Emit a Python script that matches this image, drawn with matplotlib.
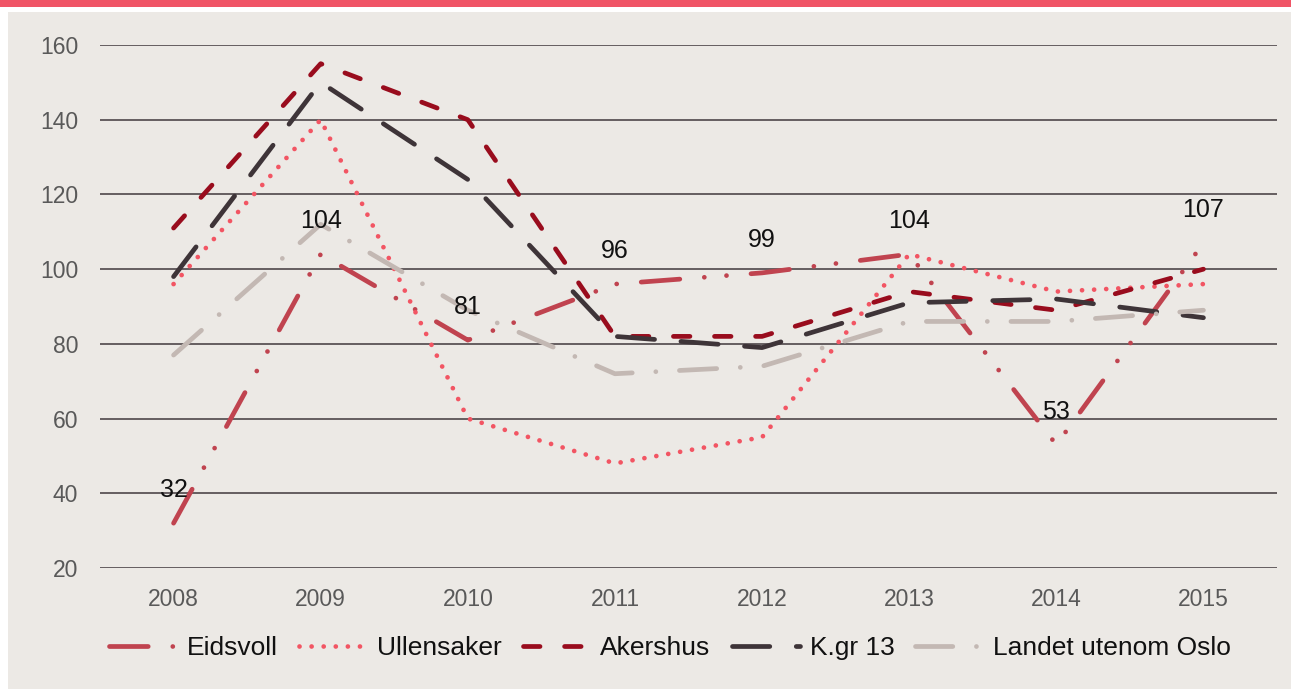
import matplotlib
matplotlib.use("Agg")
import matplotlib.pyplot as plt
from matplotlib.patches import Rectangle

plt.rcParams['font.family'] = ['Liberation Sans', 'DejaVu Sans']

# data
years = ['2008', '2009', '2010', '2011', '2012', '2013', '2014', '2015']
eidsvoll = [32, 104, 81, 96, 99, 104, 53, 107]
ullensaker = [96, 140, 60, 48, 55, 104, 94, 96]
akershus = [111, 155, 140, 82, 82, 94, 89, 100]
kgr13 = [98, 150, 124, 82, 79, 91, 92, 87]
landet = [77, 112, 89, 72, 74, 86, 86, 89]
names = ['Eidsvoll', 'Ullensaker', 'Akershus', 'K.gr 13', 'Landet utenom Oslo']

colors = ['#C0434F', '#F25563', '#990C1D', '#3E3438', '#C3B8B3']
# dash lengths in units of line width
dash_styles = [
    (8.2, 5.2, 0.01, 4.7, 0.01, 5.2),   # long dash dot dot
    (0.01, 2.55),                      # round dots
    (3.5, 5.2),                        # dash
    (7.9, 5.6),                        # long dash
    (7.9, 5.0, 0.01, 5.0),             # long dash dot
]
LW = 3.4

fig = plt.figure(figsize=(12.91, 6.89), dpi=100)
fig.patch.set_facecolor('white')
# beige panel and red top bar
fig.patches.append(Rectangle((8 / 1291, 0), 1 - 8 / 1291, (689 - 12) / 689,
                             transform=fig.transFigure, facecolor='#ECE9E5',
                             edgecolor='none', zorder=-10))
fig.patches.append(Rectangle((0, (689 - 7) / 689), 1, 7 / 689,
                             transform=fig.transFigure, facecolor='#F05466',
                             edgecolor='none', zorder=-10))

ax = fig.add_axes([100 / 1291, (689 - 568) / 689, 1177 / 1291, 523 / 689])
ax.set_facecolor('none')
ax.set_zorder(1)

x = list(range(len(years)))
series = [eidsvoll, ullensaker, akershus, kgr13, landet]
for vals, name, col, ds in zip(series, names, colors, dash_styles):
    ax.plot(x, vals, color=col, lw=LW, dashes=ds, dash_capstyle='round',
            solid_capstyle='round', label=name, clip_on=False, zorder=3)

# value labels for Eidsvoll
for xi, v in zip(x, eidsvoll):
    ax.annotate(str(v), (xi, v), xytext=(0, 23.8), textcoords='offset points',
                ha='center', va='center', fontsize=18, color='#111111', zorder=4)

ax.set_xlim(-0.5, len(years) - 0.5)
ax.set_ylim(20, 160)
ax.set_yticks(range(20, 161, 20))
ax.set_xticks(x)
ax.set_xticklabels(years)
ax.yaxis.grid(True, color='#5A5355', lw=1.3)
ax.set_axisbelow(True)
for s in ax.spines.values():
    s.set_visible(False)
ax.tick_params(axis='both', length=0, labelsize=16.5, colors='#595959')
ax.tick_params(axis='y', pad=15.8)
ax.tick_params(axis='x', pad=14.4)

leg = fig.legend(loc='center', bbox_to_anchor=(670 / 1291, (689 - 648) / 689),
                 ncol=5, frameon=False, fontsize=19, handlelength=2.6,
                 handletextpad=0.35, columnspacing=0.8)
for t in leg.get_texts():
    t.set_color('#111111')

fig.savefig('out.png', dpi=100, facecolor=fig.get_facecolor())
